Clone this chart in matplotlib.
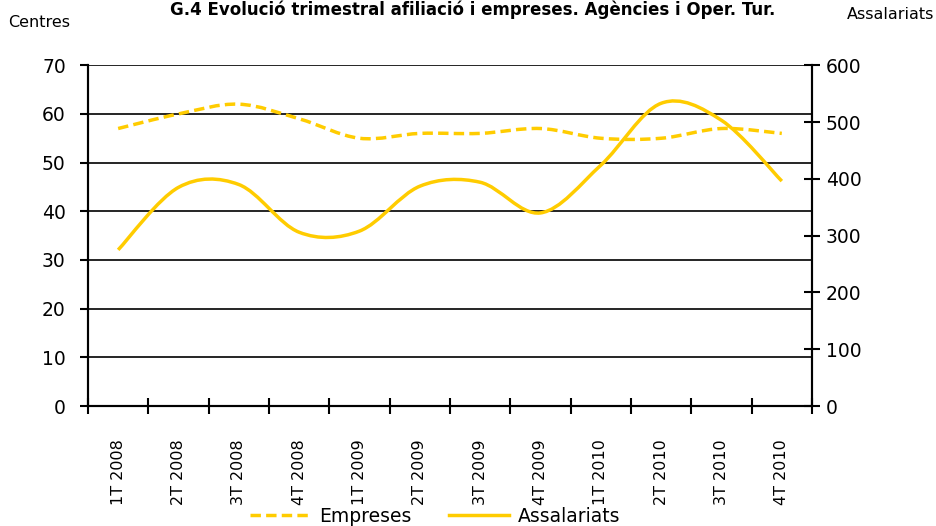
import numpy as np
import matplotlib.pyplot as plt
from matplotlib.path import Path
from matplotlib.patches import PathPatch

trimestres = ['1T 2008', '2T 2008', '3T 2008', '4T 2008',
              '1T 2009', '2T 2009', '3T 2009', '4T 2009',
              '1T 2010', '2T 2010', '3T 2010', '4T 2010']
empreses = [57, 60, 62, 59, 55, 56, 56, 57, 55, 55, 57, 56]
assalariats = [275, 385, 390, 306, 308, 387, 394, 340, 424, 533, 503, 396]

gold = '#FFCC00'
dash = (0, (3.0, 1.5))


def smooth_path(xs, ys):
    # Bezier segments like the spreadsheet "smoothed line" option
    pts = np.column_stack([xs, ys]).astype(float)
    verts = [pts[0]]
    codes = [Path.MOVETO]
    n = len(pts)
    for i in range(n - 1):
        p0 = pts[i - 1] if i > 0 else pts[i]
        p1 = pts[i]
        p2 = pts[i + 1]
        p3 = pts[i + 2] if i + 2 < n else pts[i + 1]
        c1 = p1 + (p2 - p0) / 6.0
        c2 = p2 - (p3 - p1) / 6.0
        verts += [c1, c2, p2]
        codes += [Path.CURVE4] * 3
    return Path(verts, codes)


fig = plt.figure(figsize=(9.36, 5.26), dpi=100)
ax = fig.add_axes([0.094, 0.228, 0.7735, 0.648])
ax2 = ax.twinx()

x = np.arange(len(trimestres))

ax.add_patch(PathPatch(smooth_path(x, empreses), fill=False, edgecolor=gold,
                       lw=2.5, linestyle=dash, zorder=3))
ax2.add_patch(PathPatch(smooth_path(x, assalariats), fill=False, edgecolor=gold,
                        lw=2.5, zorder=3))

ax.set_xlim(-0.5, len(trimestres) - 0.5)
ax.set_ylim(0, 70)
ax.set_yticks(range(0, 71, 10))
ax2.set_ylim(0, 600)
ax2.set_yticks(range(0, 601, 100))

ax.yaxis.grid(True, color='black', lw=1.2)
ax.set_axisbelow(True)

for a in (ax, ax2):
    a.spines['top'].set_visible(False)
    for s in ('left', 'right', 'bottom'):
        a.spines[s].set_linewidth(1.5)
        a.spines[s].set_color('black')

ax.tick_params(axis='y', direction='out', length=6, width=1.5, labelsize=13.5, pad=10)
ax2.tick_params(axis='y', direction='inout', length=12, width=1.5, labelsize=13.5, pad=4)

ax.set_xticks(x)
ax.set_xticklabels(trimestres, rotation=90, fontsize=11.5, va='top')
ax.set_xticks(np.arange(-0.5, len(trimestres)), minor=True)
ax.tick_params(axis='x', which='major', length=0, pad=24)
ax.tick_params(axis='x', which='minor', direction='inout', length=12, width=1.5)

fig.text(0.009, 0.958, 'Centres', fontsize=11.5, va='center', ha='left')
fig.text(0.998, 0.972, 'Assalariats', fontsize=11.5, va='center', ha='right')
fig.text(0.505, 0.999, 'G.4 Evolució trimestral afiliació i empreses. Agències i Oper. Tur.',
         fontsize=12, fontweight='bold', ha='center', va='top')

h1, = ax.plot([], [], color=gold, lw=2.5, linestyle=dash, label='Empreses')
h2, = ax.plot([], [], color=gold, lw=2.5, label='Assalariats')
fig.legend(handles=[h1, h2], loc='center', bbox_to_anchor=(0.465, 0.019), ncol=2,
           frameon=False, fontsize=13.5, handlelength=3.2, columnspacing=2.0,
           handletextpad=0.5)

fig.savefig('out.png', dpi=100)
